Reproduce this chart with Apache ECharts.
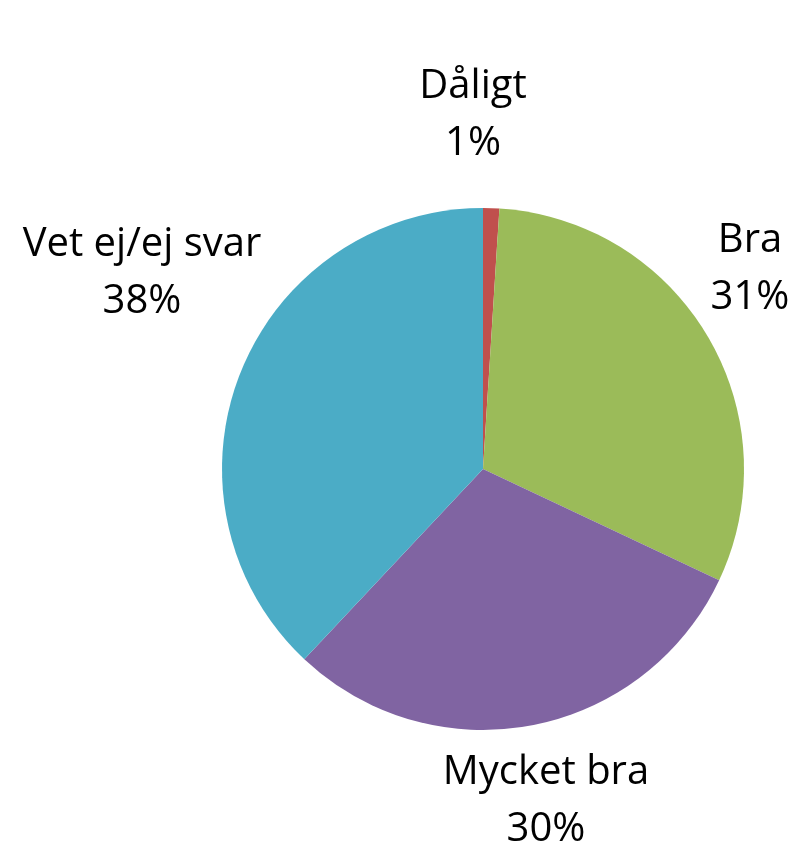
<!DOCTYPE html>
<html>
<head>
<meta charset="utf-8">
<script src="https://cdn.jsdelivr.net/npm/echarts@6/dist/echarts.min.js"></script>
<style>
  html, body { margin: 0; padding: 0; background: #fff; }
  #chart { width: 798px; height: 848px; }
</style>
</head>
<body>
<div id="chart"></div>
<script>
// data
var categories = ["Dåligt", "Bra", "Mycket bra", "Vet ej/ej svar"];
var values = [1, 31, 30, 38];
var colors = ["#c0504d", "#9bbb59", "#8064a2", "#4bacc6"];

// label centres (layout only)
var labelPos = [[473, 115], [750, 269], [546, 801], [142, 273]];

var myChart = echarts.init(document.getElementById("chart"));
var option = {
  animation: false,
  series: [
    {
      type: "pie",
      center: [483, 469],
      radius: [0, 261],
      startAngle: 90,
      clockwise: true,
      data: categories.map(function (c, i) {
        return { name: c, value: values[i], itemStyle: { color: colors[i] } };
      }),
      itemStyle: { borderWidth: 0 },
      label: {
        show: true,
        position: "outside",
        formatter: "{b}\n{d}%",
        fontFamily: "Open Sans",
        fontSize: 40,
        lineHeight: 57,
        color: "#000",
        align: "center",
        overflow: "none",
        width: 400
      },
      labelLine: { show: false },
      labelLayout: function (params) {
        var p = labelPos[params.dataIndex];
        return { x: p[0], y: p[1], align: "center", verticalAlign: "middle" };
      }
    }
  ]
};
myChart.setOption(option);
</script>
</body>
</html>
